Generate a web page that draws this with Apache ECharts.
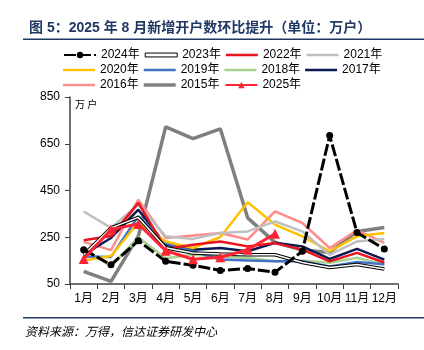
<!DOCTYPE html>
<html>
<head>
<meta charset="utf-8">
<script src="https://cdn.jsdelivr.net/npm/echarts@6/dist/echarts.min.js"></script>
<style>
  html, body { margin: 0; padding: 0; background: #fff; }
  #chart { width: 424px; height: 350px; }
</style>
</head>
<body>
<div id="chart"></div>
<script>
const months = ['1月', '2月', '3月', '4月', '5月', '6月', '7月', '8月', '9月', '10月', '11月', '12月']
const yTicks = [50, 250, 450, 650, 850]

// 新增开户数（万户）
const s2015 = [104, 61, 255, 722, 672, 714, 333, 228, 195, 185, 275, 292]
const s2016 = [230, 195, 411, 247, 257, 268, 240, 361, 311, 204, 280, 226]
const s2017 = [175, 247, 368, 218, 197, 204, 190, 226, 211, 157, 200, 154]
const s2018 = [204, 125, 250, 160, 175, 168, 161, 147, 151, 141, 162, 133]
const s2019 = [168, 166, 340, 225, 190, 155, 151, 147, 147, 125, 144, 135]
const s2020 = [150, 170, 313, 232, 204, 251, 400, 304, 254, 190, 254, 268]
const s2021 = [360, 290, 390, 254, 243, 268, 275, 318, 275, 175, 232, 243]
const s2022 = [237, 255, 397, 200, 218, 232, 211, 225, 197, 147, 183, 142]
const s2023 = [175, 290, 335, 205, 183, 178, 175, 175, 142, 121, 133, 114]
const s2024 = [197, 132, 235, 147, 130, 108, 116, 100, 190, 685, 270, 200]
const s2025 = [156.6, 283.6, 306.6, 192.4, 155.7, 164.6, 196.4, 265.0]

const latin = '"Liberation Sans", Arial, "Noto Sans CJK SC", sans-serif'
const navy = '#1f3864'

const line = (name, data, color, width, extra) => Object.assign({
  name,
  type: 'line',
  data,
  symbol: 'none',
  lineStyle: { color, width },
  itemStyle: { color },
  emphasis: { disabled: true },
  animation: false,
}, extra || {})

const series = [
  line('2015年', s2015, '#7f7f7f', 3.5),
  line('2016年', s2016, '#ff8b8b', 2.5),
  line('2017年', s2017, '#0a1a52', 2.5),
  line('2018年', s2018, '#a9d18e', 2.5),
  line('2019年', s2019, '#4472c4', 2.5),
  line('2020年', s2020, '#ffc000', 2.5),
  line('2021年', s2021, '#bfbfbf', 2.5),
  line('2022年', s2022, '#e8141e', 2.5),
  line('2023年', s2023, '#000000', 3.5),
  // white core of the 2023 double line
  line('2023core', s2023, '#ffffff', 1.5),
  line('2024年', s2024, '#000000', 3, {
    symbol: 'circle', symbolSize: 7,
    lineStyle: { color: '#000', width: 3, type: [12, 3] },
  }),
  line('2025年', s2025, '#ff2433', 3, {
    symbol: 'triangle', symbolSize: 10,
  }),
]

// plain bar icon for the legend
const bar = (name, h) => ({ name, icon: 'path://M0,0H66V' + h + 'H0Z' })

const legendBase = {
  left: 58,
  itemWidth: 32,
  itemHeight: 8,
  itemGap: 5,
  textStyle: { fontFamily: latin, fontSize: 12, color: '#000' },
  selectedMode: false,
}

const chart = echarts.init(document.getElementById('chart'), null, { renderer: 'canvas' })
chart.setOption({
  backgroundColor: '#fff',
  title: {
    text: '图 5：2025 年 8 月新增开户数环比提升（单位：万户）',
    left: 24,
    top: 16,
    textStyle: { fontFamily: latin, fontSize: 14, fontWeight: 'bold', color: navy },
  },
  legend: [
    Object.assign({ top: 44, data: ['2024年', {
      name: '2023年', icon: 'path://M0,0H66V8H0Z',
      itemStyle: { color: '#fff', borderColor: '#000', borderWidth: 1 },
    }, bar('2022年', 5), bar('2021年', 5)] }, legendBase),
    Object.assign({ top: 59, data: [bar('2020年', 5), bar('2019年', 5), bar('2018年', 5), bar('2017年', 5)] }, legendBase),
    Object.assign({ top: 74, data: [bar('2016年', 5), bar('2015年', 7), '2025年'] }, legendBase),
  ],
  grid: { left: 70, right: 26, top: 97, bottom: 66 },
  xAxis: {
    type: 'category',
    data: months,
    boundaryGap: true,
    axisLine: { lineStyle: { color: '#404040', width: 1.5 } },
    axisTick: { show: true, length: 5, lineStyle: { color: '#404040' } },
    axisLabel: { fontFamily: latin, fontSize: 12, color: '#000', margin: 9, interval: 0, hideOverlap: false },
  },
  yAxis: {
    type: 'value',
    min: 50,
    max: 850,
    interval: 200,
    axisLine: { show: true, lineStyle: { color: '#404040', width: 1.5 } },
    axisTick: { show: true, length: 5, customValues: yTicks, lineStyle: { color: '#404040' } },
    axisLabel: { fontFamily: latin, fontSize: 12, color: '#000', margin: 10, customValues: yTicks },
    splitLine: { show: false },
  },
  series,
  graphic: [
    { type: 'rect', shape: { x: 23, y: 38.5, width: 401, height: 1.5 }, style: { fill: navy } },
    { type: 'rect', shape: { x: 23, y: 317, width: 401, height: 1.5 }, style: { fill: navy } },
    {
      type: 'text', left: 75, top: 99,
      style: { text: '万 户', font: '10px "Noto Sans CJK SC"', fill: '#000' },
    },
    {
      type: 'text', left: 25, top: 325,
      style: { text: '资料来源：万得，信达证券研发中心', font: 'italic 12px "Noto Sans CJK SC"', fill: '#000' },
    },
  ],
})
</script>
</body>
</html>
